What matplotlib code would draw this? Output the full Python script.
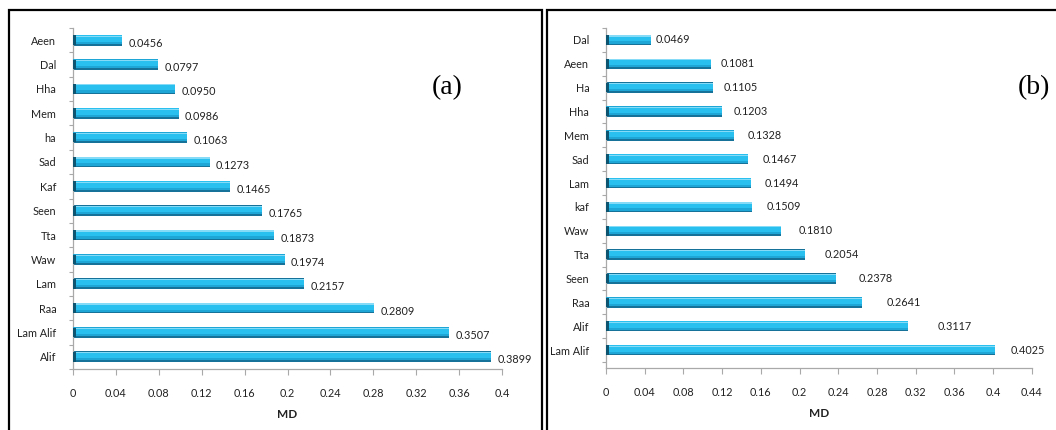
import matplotlib
matplotlib.use("Agg")
import matplotlib.pyplot as plt
from matplotlib.patches import Rectangle
from matplotlib.ticker import FixedLocator

# ---------------- data ----------------
cats_a = ["Aeen", "Dal", "Hha", "Mem", "ha", "Sad", "Kaf", "Seen", "Tta", "Waw",
          "Lam", "Raa", "Lam Alif", "Alif"]
vals_a = [0.0456, 0.0797, 0.0950, 0.0986, 0.1063, 0.1273, 0.1465, 0.1765, 0.1873,
          0.1974, 0.2157, 0.2809, 0.3507, 0.3899]
labels_a = ["0.0456", "0.0797", "0.0950", "0.0986", "0.1063", "0.1273", "0.1465",
            "0.1765", "0.1873", "0.1974", "0.2157", "0.2809", "0.3507", "0.3899"]
xticks_a = [0, 0.04, 0.08, 0.12, 0.16, 0.2, 0.24, 0.28, 0.32, 0.36, 0.4]
xticklabels_a = ["0", "0.04", "0.08", "0.12", "0.16", "0.2", "0.24", "0.28", "0.32", "0.36", "0.4"]

cats_b = ["Dal", "Aeen", "Ha", "Hha", "Mem", "Sad", "Lam", "kaf", "Waw", "Tta",
          "Seen", "Raa", "Alif", "Lam Alif"]
vals_b = [0.0469, 0.1081, 0.1105, 0.1203, 0.1328, 0.1467, 0.1494, 0.1509, 0.1810,
          0.2054, 0.2378, 0.2641, 0.3117, 0.4025]
labels_b = ["0.0469", "0.1081", "0.1105", "0.1203", "0.1328", "0.1467", "0.1494",
            "0.1509", "0.1810", "0.2054", "0.2378", "0.2641", "0.3117", "0.4025"]
xticks_b = [0, 0.04, 0.08, 0.12, 0.16, 0.2, 0.24, 0.28, 0.32, 0.36, 0.4, 0.44]
xticklabels_b = ["0", "0.04", "0.08", "0.12", "0.16", "0.2", "0.24", "0.28", "0.32",
                 "0.36", "0.4", "0.44"]

axis_label = "MD"
panel_a = "(a)"
panel_b = "(b)"

# ---------------- style ----------------
W, H = 1056, 430
plt.rcParams['font.family'] = ['Lato', 'DejaVu Sans']
fig = plt.figure(figsize=(W / 100, H / 100), dpi=100)
fig.patch.set_facecolor("white")

def px_rect(x0, y0, x1, y1):
    return [x0 / W, 1 - y1 / H, (x1 - x0) / W, (y1 - y0) / H]

GREY = "#a9a9a9"
LAYERS = [  # (vertical shift, height, colour) -> fake cylinder shading
    (0.00, 0.44, "#17729a"),
    (0.03, 0.36, "#1ea6d6"),
    (0.07, 0.26, "#29bfee"),
    (0.165, 0.05, "#86dcf6"),
]
CAP = "#0e5572"


def draw_panel(rect, cats, vals, labels, xticks, xticklabels, xmax, ylow, label_mode):
    ax = fig.add_axes(rect)
    n = len(cats)
    ys = [n - 1 - i for i in range(n)]
    for k, (dy, h, c) in enumerate(LAYERS):
        ax.barh([y + dy for y in ys], vals, height=h, color=c, linewidth=0,
                zorder=2 + k)
    ax.barh(ys, [xmax * 0.007] * n, height=0.40, color=CAP, linewidth=0, zorder=8)
    for y, v, s in zip(ys, vals, labels):
        if label_mode == "a":
            ax.annotate(s, (v, y), xytext=(4.5, -2.2), textcoords="offset points",
                        ha="left", va="center", fontsize=7.8, color="#222222")
        else:
            ax.text(min(v * 1.1, 0.418), y, s, ha="left", va="center",
                    fontsize=7.8, color="#222222")
    ax.set_xlim(0, xmax)
    ax.set_ylim(ylow, n - 0.5)
    ax.set_xticks(xticks)
    ax.set_xticklabels(xticklabels)
    ax.set_yticks(ys)
    ax.set_yticklabels(cats)
    ax.yaxis.set_minor_locator(FixedLocator([k - 0.5 for k in range(n + 1)]))
    ax.tick_params(axis="y", which="major", length=0, pad=12, labelsize=7.8,
                   labelcolor="#222222")
    ax.tick_params(axis="y", which="minor", length=3, color=GREY, width=0.8)
    ax.tick_params(axis="x", which="major", length=4, color=GREY, width=0.8,
                   pad=10, labelsize=7.8, labelcolor="#222222")
    for sp in ["top", "right"]:
        ax.spines[sp].set_visible(False)
    for sp in ["left", "bottom"]:
        ax.spines[sp].set_color(GREY)
        ax.spines[sp].set_linewidth(0.9)
    ax.set_xlabel(axis_label, fontsize=8.5, fontweight="bold", labelpad=7,
                  color="#222222")
    ax.set_facecolor("none")
    return ax


draw_panel(px_rect(73, 28, 502, 369), cats_a, vals_a, labels_a, xticks_a,
           xticklabels_a, 0.4, -0.5, "a")
draw_panel(px_rect(606, 28, 1031.7, 368), cats_b, vals_b, labels_b, xticks_b,
           xticklabels_b, 0.44, -0.75, "b")

# panel frames
fig.add_artist(Rectangle((9 / W, -0.05), (542 - 9) / W, 1.05 - 10 / H,
                         transform=fig.transFigure, fill=False, lw=1.6,
                         edgecolor="black", clip_on=False))
fig.add_artist(Rectangle((547 / W, -0.05), (1070 - 547) / W, 1.05 - 10 / H,
                         transform=fig.transFigure, fill=False, lw=1.6,
                         edgecolor="black", clip_on=False))

fig.text(447 / W, 1 - 88 / H, panel_a, fontsize=20, family="Liberation Serif",
         ha="center", va="center")
fig.text(1034 / W, 1 - 88 / H, panel_b, fontsize=20, family="Liberation Serif",
         ha="center", va="center")

fig.savefig("out.png", dpi=100, facecolor="white")
